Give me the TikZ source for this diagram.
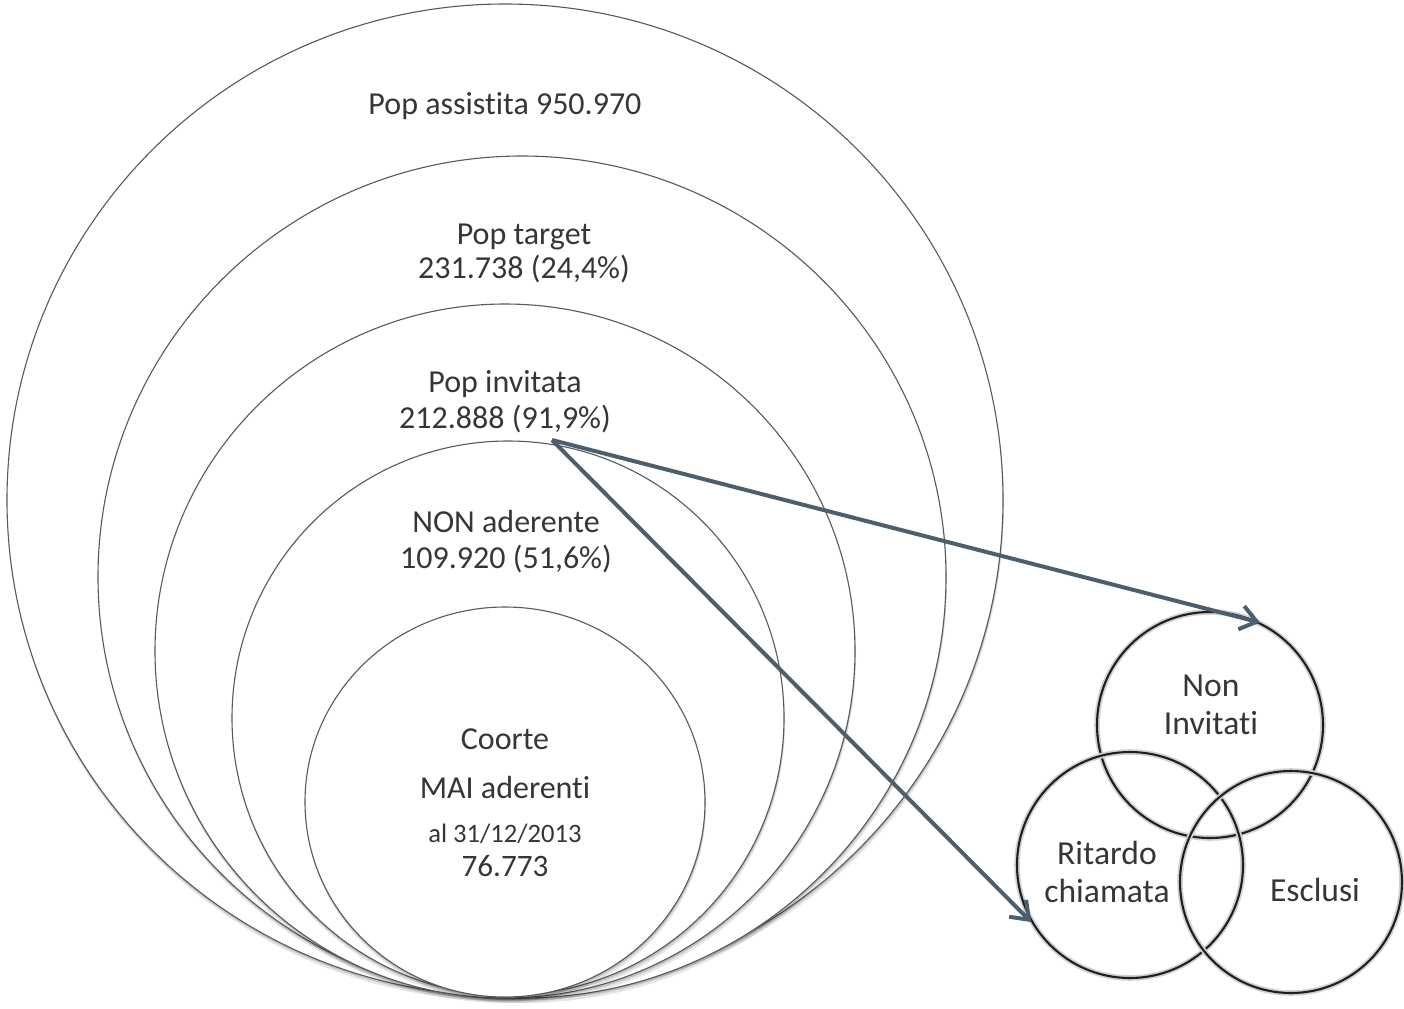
\documentclass[tikz,border=0pt]{standalone}
\usepackage{fontspec}
\setmainfont{Carlito}[Ligatures=NoCommon]
\usetikzlibrary{shapes.geometric,arrows.meta}
\definecolor{txt}{HTML}{363636}
\definecolor{arr}{HTML}{4A6070}
\begin{document}
\begin{tikzpicture}[x=0.5pt,y=-0.5pt,
  ring/.style={ellipse, draw=black!65, line width=0.55pt, fill=white, inner sep=0pt},
  shad/.style={fill=black, opacity=#1},
  lbl/.style={text=txt, font=\fontsize{16}{18}\selectfont, anchor=base, inner sep=0pt},
  vlbl/.style={text=txt, font=\fontsize{16.8}{19}\selectfont, anchor=base, inner sep=0pt},
  venn/.style={circle, draw=black!88, line width=1.05pt, inner sep=0pt, minimum size=#1,
    preaction={draw=black!18, line width=2.8pt}},
  conn/.style={draw=arr, line width=2pt, -{Straight Barb[length=8pt,width=12pt]}}]
\useasboundingbox (0,0) rectangle (1404,1008);
\fill[white] (0,0) rectangle (1404,1008);
% nested rings with soft shadows
\foreach \cx/\cy/\rx/\ry/\nm in {505/500/498/496/c1, 522/577/424/421/c2, 505/651/350/347/c3, 508/718/276/277/c4, 505/802/200/195/c5}{
  \fill[shad=0.10] (\cx+1,\cy+5) ellipse [x radius=\rx, y radius=\ry];
  \fill[shad=0.15] (\cx+0.5,\cy+2.5) ellipse [x radius=\rx, y radius=\ry];
  \node[ring, minimum width=\rx pt, minimum height=\ry pt] (\nm) at (\cx,\cy) {};
}
% labels
\node[lbl] (t1) at (505,114) {Pop assistita 950.970};
\node[lbl] (t2a) at (524,244) {Pop target};
\node[lbl] (t2b) at (524,278) {231.738 (24,4\%)};
\node[lbl] (t3a) at (505,392) {Pop invitata};
\node[lbl] (t3b) at (505,428) {212.888 (91,9\%)};
\node[lbl] (t4a) at (506,532) {NON aderente};
\node[lbl] (t4b) at (506,568) {109.920 (51,6\%)};
\node[lbl] (t5a) at (505,749) {Coorte};
\node[lbl] (t5b) at (505,798) {MAI aderenti};
\node[lbl, font=\fontsize{13.3}{15}\selectfont] (t5c) at (505,842) {al 31/12/2013};
\node[lbl, font=\fontsize{15.6}{18}\selectfont] (t5d) at (505,876) {76.773};
% venn
\node[venn=113pt] (ni) at (1210,725) {};
\node[venn=113pt] (rc) at (1130,865) {};
\node[venn=111pt] (es) at (1291,882) {};
\node[vlbl] (ni1) at (1211,696) {Non};
\node[vlbl] (ni2) at (1211,734) {Invitati};
\node[vlbl] (rc1) at (1107,864) {Ritardo};
\node[vlbl] (rc2) at (1107,902) {chiamata};
\node[vlbl] (es1) at (1315,901) {Esclusi};
% connectors
\coordinate (src) at (552,440);
\draw[conn] (src) -- (ni.64);
\draw[conn] (src) -- (rc.210);
\end{tikzpicture}
\end{document}
